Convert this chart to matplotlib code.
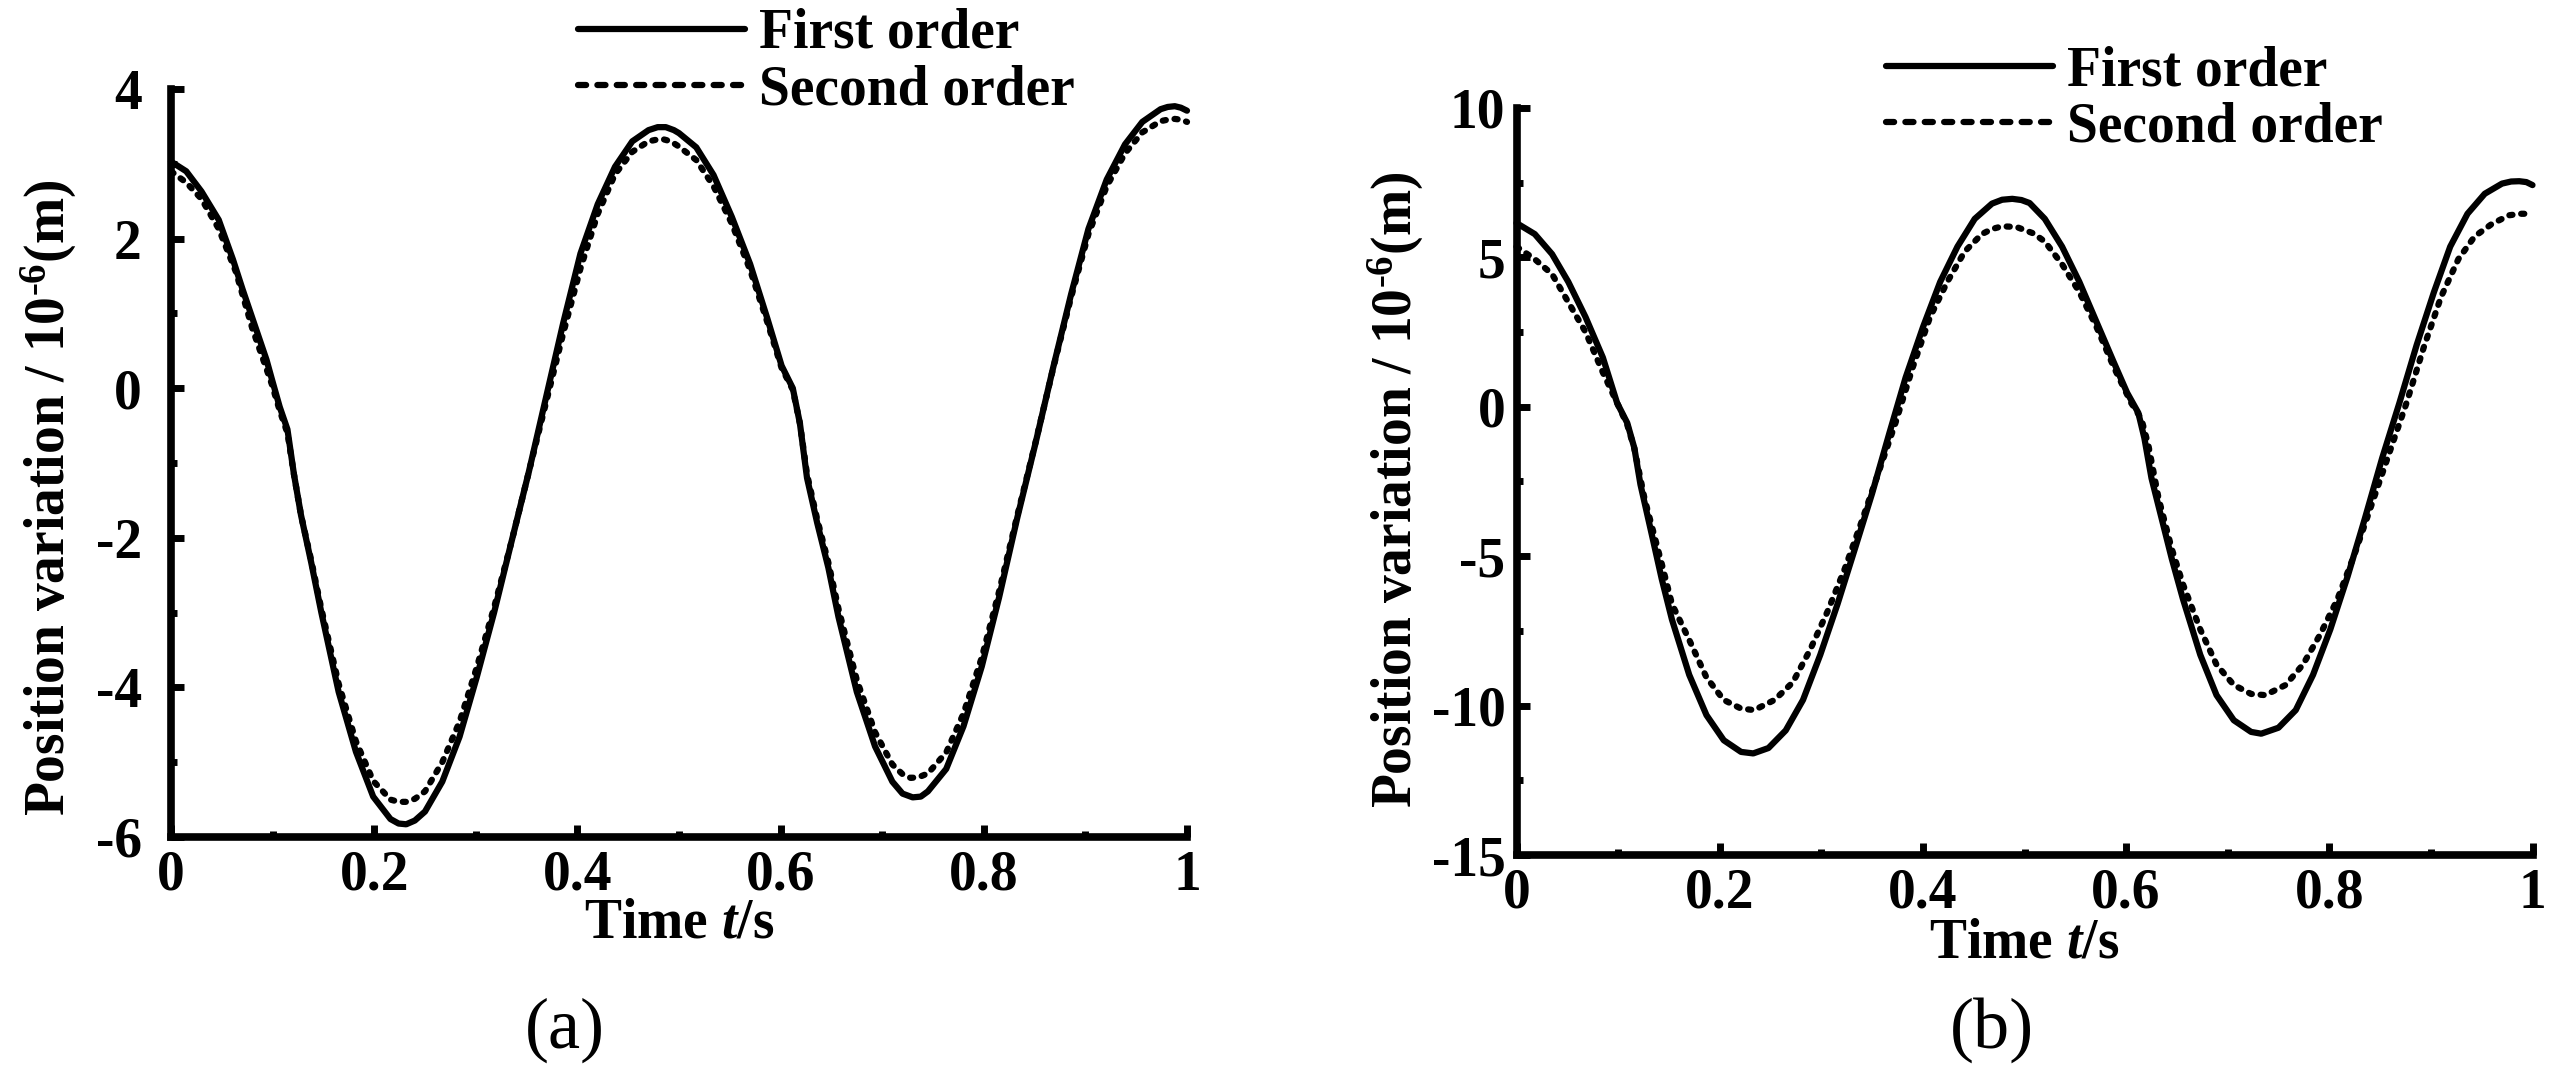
import matplotlib
matplotlib.use("Agg")
import matplotlib.pyplot as plt
from matplotlib.lines import Line2D

plt.rcParams['font.family'] = ['Liberation Serif', 'DejaVu Serif']
plt.rcParams['font.weight'] = 'bold'
plt.rcParams['axes.unicode_minus'] = False
plt.rcParams['mathtext.fontset'] = 'custom'
plt.rcParams['mathtext.rm'] = 'Liberation Serif:bold'
plt.rcParams['mathtext.it'] = 'Liberation Serif:italic:bold'
plt.rcParams['mathtext.bf'] = 'Liberation Serif:bold'

# ---------------- data ----------------
# panel (a) first order
ta1 = [0, 0.015, 0.03, 0.047, 0.061, 0.0705, 0.081, 0.094, 0.0993, 0.107,
       0.1146, 0.121, 0.128, 0.138, 0.148, 0.165, 0.182, 0.199, 0.216, 0.224,
       0.2315, 0.24, 0.25, 0.267, 0.284, 0.301, 0.318, 0.335, 0.352, 0.369,
       0.386, 0.403, 0.42, 0.437, 0.454, 0.47, 0.479, 0.487, 0.495, 0.5,
       0.517, 0.534, 0.552, 0.57, 0.587, 0.601, 0.612, 0.619, 0.626, 0.636,
       0.647, 0.657, 0.675, 0.693, 0.71, 0.72, 0.73, 0.738, 0.745, 0.763,
       0.78, 0.798, 0.815, 0.833, 0.851, 0.868, 0.886, 0.903, 0.921, 0.939,
       0.956, 0.974, 0.981, 0.988, 0.994, 1.0]
ya1 = [3.03, 2.9, 2.63, 2.25, 1.72, 1.32, 0.9, 0.38, 0.12, -0.25,
       -0.55, -1.15, -1.7, -2.33, -3.0, -4.06, -4.86, -5.46, -5.76, -5.82,
       -5.83, -5.78, -5.66, -5.26, -4.66, -3.86, -3.0, -2.06, -1.13, -0.13,
       0.87, 1.8, 2.46, 2.96, 3.3, 3.45, 3.49, 3.49, 3.45, 3.41,
       3.22, 2.85, 2.29, 1.66, 0.93, 0.3, 0.0, -0.47, -1.2, -1.8,
       -2.4, -3.06, -4.06, -4.79, -5.26, -5.42, -5.47, -5.46, -5.39, -5.09,
       -4.52, -3.72, -2.8, -1.73, -0.73, 0.26, 1.26, 2.13, 2.79, 3.26,
       3.56, 3.73, 3.76, 3.77, 3.75, 3.71]
# panel (a) second order
ta2 = [0, 0.015, 0.03, 0.047, 0.064, 0.08, 0.0993, 0.107, 0.1146, 0.121,
       0.128, 0.138, 0.148, 0.165, 0.182, 0.199, 0.216, 0.224, 0.2315, 0.24,
       0.25, 0.267, 0.284, 0.301, 0.318, 0.335, 0.352, 0.369, 0.386, 0.403,
       0.42, 0.437, 0.454, 0.47, 0.477, 0.484, 0.492, 0.5, 0.517, 0.534,
       0.552, 0.57, 0.587, 0.601, 0.612, 0.619, 0.626, 0.636, 0.647, 0.657,
       0.675, 0.693, 0.71, 0.72, 0.728, 0.736, 0.745, 0.763, 0.78, 0.798,
       0.815, 0.833, 0.851, 0.868, 0.886, 0.903, 0.921, 0.939, 0.956, 0.974,
       0.981, 0.988, 0.994, 1.0]
ya2 = [2.9, 2.75, 2.53, 2.13, 1.55, 0.8, 0.05, -0.3, -0.6, -1.15,
       -1.7, -2.3, -2.95, -3.95, -4.72, -5.25, -5.5, -5.53, -5.53, -5.49,
       -5.39, -5.0, -4.46, -3.73, -2.93, -2.06, -1.13, -0.2, 0.73, 1.6,
       2.33, 2.86, 3.16, 3.3, 3.32, 3.33, 3.3, 3.23, 3.05, 2.7,
       2.2, 1.58, 0.88, 0.27, -0.02, -0.47, -1.15, -1.75, -2.33, -2.95,
       -3.9, -4.6, -5.03, -5.16, -5.21, -5.2, -5.15, -4.87, -4.35, -3.6,
       -2.72, -1.7, -0.72, 0.25, 1.22, 2.06, 2.7, 3.14, 3.42, 3.57,
       3.59, 3.6, 3.59, 3.56]
# panel (b) first order
tb1 = [0, 0.018, 0.035, 0.051, 0.068, 0.085, 0.099, 0.109, 0.116, 0.122,
       0.133, 0.143, 0.153, 0.17, 0.187, 0.204, 0.221, 0.233, 0.248, 0.265,
       0.282, 0.299, 0.316, 0.333, 0.35, 0.367, 0.383, 0.4, 0.417, 0.434,
       0.451, 0.468, 0.478, 0.488, 0.497, 0.505, 0.52, 0.537, 0.554, 0.571,
       0.588, 0.601, 0.612, 0.618, 0.625, 0.635, 0.645, 0.656, 0.673, 0.689,
       0.706, 0.723, 0.733, 0.75, 0.767, 0.784, 0.801, 0.818, 0.835, 0.852,
       0.869, 0.886, 0.903, 0.919, 0.936, 0.953, 0.97, 0.979, 0.987, 0.994,
       1.0]
yb1 = [6.15, 5.78, 5.11, 4.18, 3.0, 1.65, 0.13, -0.54, -1.38, -2.6,
       -4.25, -5.77, -7.12, -8.97, -10.32, -11.16, -11.55, -11.6, -11.42, -10.83,
       -9.81, -8.3, -6.6, -4.76, -2.9, -0.88, 0.98, 2.66, 4.18, 5.36,
       6.29, 6.8, 6.93, 6.96, 6.92, 6.82, 6.29, 5.36, 4.18, 2.83,
       1.48, 0.47, -0.2, -1.05, -2.39, -3.74, -5.09, -6.44, -8.3, -9.65,
       -10.49, -10.88, -10.94, -10.74, -10.15, -8.97, -7.45, -5.68, -3.74, -1.72,
       0.13, 2.07, 3.84, 5.36, 6.46, 7.13, 7.47, 7.54, 7.55, 7.52,
       7.42]
# panel (b) second order
tb2 = [0, 0.018, 0.035, 0.051, 0.068, 0.085, 0.099, 0.109, 0.116, 0.126,
       0.143, 0.153, 0.17, 0.187, 0.204, 0.221, 0.234, 0.254, 0.272, 0.289,
       0.306, 0.323, 0.339, 0.356, 0.373, 0.39, 0.407, 0.424, 0.441, 0.458,
       0.468, 0.478, 0.492, 0.509, 0.52, 0.537, 0.554, 0.571, 0.588, 0.605,
       0.615, 0.622, 0.632, 0.645, 0.656, 0.673, 0.689, 0.706, 0.723, 0.737,
       0.757, 0.774, 0.791, 0.808, 0.825, 0.842, 0.859, 0.876, 0.893, 0.91,
       0.927, 0.943, 0.96, 0.977, 0.988, 1.0]
yb2 = [5.36, 4.94, 4.44, 3.5, 2.5, 1.15, 0.13, -0.6, -1.4, -3.07,
       -5.26, -6.6, -7.8, -9.06, -9.81, -10.1, -10.15, -9.81, -9.22, -8.13,
       -6.86, -5.43, -3.91, -2.23, -0.54, 1.32, 3.0, 4.18, 5.19, 5.78,
       5.95, 6.04, 6.02, 5.8, 5.53, 4.77, 3.84, 2.66, 1.32, 0.13,
       -0.4, -1.3, -3.07, -4.76, -5.94, -7.45, -8.63, -9.31, -9.61, -9.65,
       -9.31, -8.63, -7.62, -6.44, -4.92, -3.24, -1.55, 0.13, 1.99, 3.68,
       4.94, 5.7, 6.12, 6.41, 6.46, 6.46]

xticks = [0, 0.2, 0.4, 0.6, 0.8, 1.0]
xticklabels = ["0", "0.2", "0.4", "0.6", "0.8", "1"]
yticks_a = [-6, -4, -2, 0, 2, 4]
yticklabels_a = ["-6", "-4", "-2", "0", "2", "4"]
yticks_b = [-15, -10, -5, 0, 5, 10]
yticklabels_b = ["-15", "-10", "-5", "0", "5", "10"]
series_names = ["First order", "Second order"]
panel_tags = ["(a)", "(b)"]
ylabel_text = "Position variation / 10$^{\\text{-6}}$(m)"
xlabel_text = "Time $t$/s"

# ---------------- figure ----------------
W, H = 2561, 1075
fig = plt.figure(figsize=(W / 100, H / 100), dpi=100)

def frac_box(x0, x1, ytop, ybot):
    return [x0 / W, 1 - ybot / H, (x1 - x0) / W, (ybot - ytop) / H]

ax_a = fig.add_axes(frac_box(171, 1187, 89, 837))
ax_b = fig.add_axes(frac_box(1516.5, 2532.5, 108, 855))

LW = 4.5
FS = 40
dot_style = (0, (0.5, 1.4))

def style_axes(ax, yticks, yticklabels, ylim, yminor, ypad):
    ax.set_xlim(0, 1)
    ax.set_ylim(*ylim)
    for s in ("top", "right"):
        ax.spines[s].set_visible(False)
    for s in ("left", "bottom"):
        ax.spines[s].set_linewidth(5.5)
        ax.spines[s].set_capstyle("projecting")
    ax.set_xticks(xticks)
    ax.set_xticklabels(xticklabels, fontsize=FS, fontweight="bold")
    ax.set_xticks([0.1, 0.3, 0.5, 0.7, 0.9], minor=True)
    ax.set_yticks(yticks)
    ax.set_yticklabels(yticklabels, fontsize=FS, fontweight="bold")
    ax.set_yticks(yminor, minor=True)
    ax.tick_params(which="major", direction="in", length=9, width=5)
    ax.tick_params(which="minor", direction="in", length=4.5, width=5)
    ax.tick_params(axis="x", which="both", pad=9)
    ax.tick_params(axis="y", which="both", pad=ypad)
    ax.patch.set_alpha(0)

style_axes(ax_a, yticks_a, yticklabels_a, (-6, 4), [-5, -3, -1, 1, 3], 21)
style_axes(ax_b, yticks_b, yticklabels_b, (-15, 10), [-12.5, -7.5, -2.5, 2.5, 7.5], 8)

ax_a.plot(ta1, ya1, color="black", lw=LW, solid_capstyle="round",
          solid_joinstyle="round", clip_on=False)
ax_a.plot(ta2, ya2, color="black", lw=LW, linestyle=dot_style,
          dash_capstyle="round", clip_on=False)
ax_b.plot(tb1, yb1, color="black", lw=LW, solid_capstyle="round",
          solid_joinstyle="round", clip_on=False)
ax_b.plot(tb2, yb2, color="black", lw=LW, linestyle=dot_style,
          dash_capstyle="round", clip_on=False)

# legends
def add_legend(ax, x, ytop):
    handles = [
        Line2D([], [], color="black", lw=LW, solid_capstyle="round"),
        Line2D([], [], color="black", lw=LW, linestyle=(0, (1.3, 1.8)),
               dash_capstyle="round"),
    ]
    ax.legend(handles, series_names, loc="upper left",
              bbox_to_anchor=(x / W, 1 - ytop / H),
              bbox_transform=fig.transFigure, frameon=False,
              prop={"family": "Liberation Serif", "weight": "bold", "size": FS},
              handlelength=3.0, handletextpad=0.25, labelspacing=0.08,
              borderpad=0, borderaxespad=0)

add_legend(ax_a, 578, 8)
add_legend(ax_b, 1886, 45)

# axis labels
for xc, yc in ((679, 923), (2024, 944)):
    fig.text(xc / W, 1 - yc / H, xlabel_text, fontsize=FS, fontweight="bold",
             ha="center", va="center")
for xc, yc in ((49, 498), (1396, 490)):
    fig.text(xc / W, 1 - yc / H, ylabel_text, fontsize=FS, fontweight="bold",
             rotation=90, ha="center", va="center")

# panel tags
for tag, xc in zip(panel_tags, (565, 1992)):
    fig.text(xc / W, 1 - 1030 / H, tag, fontsize=52, fontweight="normal",
             ha="center", va="center")

fig.savefig("out.png", dpi=100)
